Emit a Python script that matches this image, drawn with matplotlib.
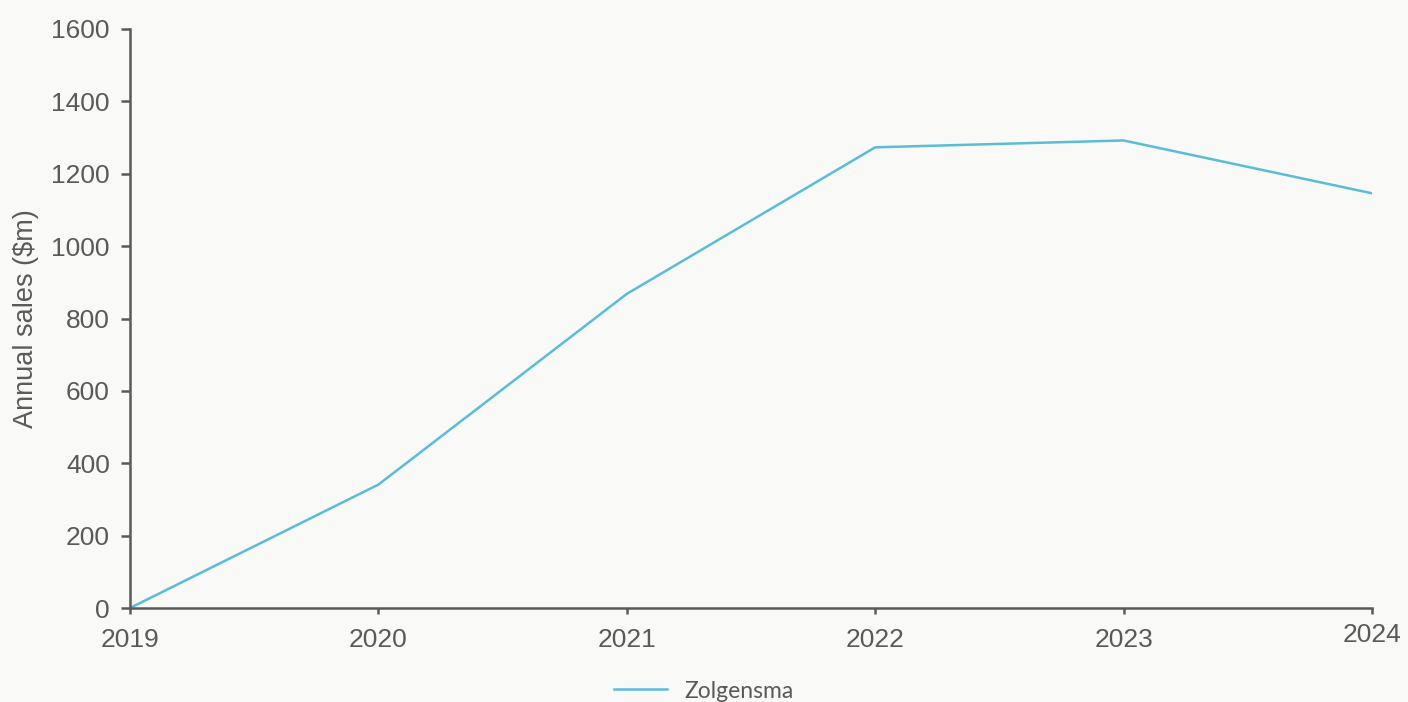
import matplotlib
matplotlib.use("Agg")
import matplotlib.pyplot as plt
import matplotlib.transforms as mtransforms

years = [2019, 2020, 2021, 2022, 2023, 2024]
sales = [0, 341, 868, 1273, 1292, 1146]
yticks = [0, 200, 400, 600, 800, 1000, 1200, 1400, 1600]
series_name = "Zolgensma"
ylabel = "Annual sales ($m)"

bg = "#f9f9f7"
ink = "#5a5a5a"
line_color = "#5bbcd6"

plt.rcParams['font.family'] = ['Liberation Sans', 'DejaVu Sans']

fig = plt.figure(figsize=(14.08, 7.02), dpi=100, facecolor=bg)
ax = fig.add_axes([130/1408, 1-608/702, (1372-130)/1408, (608-29)/702])
ax.set_facecolor(bg)

ax.plot(years, sales, color=line_color, linewidth=1.8, label=series_name)

ax.set_xlim(years[0], years[-1])
ax.set_ylim(0, 1600)
ax.set_xticks(years)
ax.set_yticks(yticks)

for s in ["top", "right"]:
    ax.spines[s].set_visible(False)
for s in ["left", "bottom"]:
    ax.spines[s].set_color(ink)
    ax.spines[s].set_linewidth(1.8)

ax.tick_params(axis="y", direction="out", length=6.5, width=1.8, color=ink,
               labelcolor=ink, labelsize=19, pad=8)
ax.tick_params(axis="x", direction="out", length=4.5, width=1.8, color=ink,
               labelcolor=ink, labelsize=19, pad=10)

labels = ax.get_xticklabels()
last = labels[-1]
last.set_transform(last.get_transform() + mtransforms.ScaledTranslation(0, 5/100, fig.dpi_scale_trans))

ax.set_ylabel(ylabel, color=ink, fontsize=19.5, labelpad=9)

leg = fig.legend(loc="center", bbox_to_anchor=(0.5, 1-691/702), frameon=False,
                 handlelength=2.3,
                 prop={"family": ["Lato", "DejaVu Sans"], "size": 16.5})
for t in leg.get_texts():
    t.set_color(ink)

fig.savefig("out.png", dpi=100, facecolor=bg)
